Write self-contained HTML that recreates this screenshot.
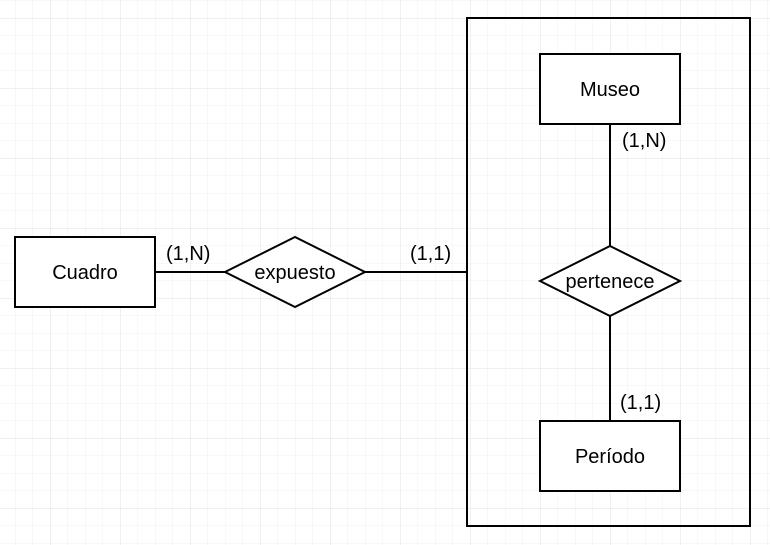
<!DOCTYPE html>
<html><head><meta charset="utf-8"><style>
html,body{margin:0;padding:0;background:#fff;}
svg{display:block;}
text{font-family:"Liberation Sans",Arial,sans-serif;font-size:20px;fill:#000;}
</style></head><body>
<svg width="770" height="545" viewBox="0 0 770 545" xmlns="http://www.w3.org/2000/svg">
<defs>
<pattern id="minor" x="15" y="0.5" width="17.5" height="17.5" patternUnits="userSpaceOnUse">
<path d="M0 0 H17.5 M0 0 V17.5" stroke="#f0f0f0" stroke-width="1" fill="none"/>
</pattern>
<pattern id="major" x="50" y="18" width="70" height="70" patternUnits="userSpaceOnUse">
<path d="M0 0 H70 M0 0 V70" stroke="#e2e2e2" stroke-width="1" fill="none"/>
</pattern>
</defs>
<rect width="770" height="545" fill="url(#minor)"/>
<rect width="770" height="545" fill="url(#major)"/>
<g stroke="#000" stroke-width="2" fill="none">
<rect x="467" y="18" width="283" height="508"/>
<line x1="155" y1="272" x2="225" y2="272"/>
<line x1="365" y1="272" x2="467" y2="272"/>
<line x1="610" y1="124" x2="610" y2="246"/>
<line x1="610" y1="316" x2="610" y2="421"/>
</g>
<g stroke="#000" stroke-width="2" fill="#fff">
<rect x="15" y="237" width="140" height="70"/>
<rect x="540" y="54" width="140" height="70"/>
<rect x="540" y="421" width="140" height="70"/>
<polygon points="225,272 295,237 365,272 295,307"/>
<polygon points="540,281 610,246 680,281 610,316"/>
</g>
<g text-anchor="middle">
<text x="85" y="279">Cuadro</text>
<text x="610" y="96">Museo</text>
<text x="610" y="463">Período</text>
<text x="295" y="279">expuesto</text>
<text x="610" y="288">pertenece</text>
</g>
<text x="166" y="260">(1,N)</text>
<text x="410" y="260">(1,1)</text>
<text x="622" y="147">(1,N)</text>
<text x="620" y="409">(1,1)</text>
</svg>
</body></html>
